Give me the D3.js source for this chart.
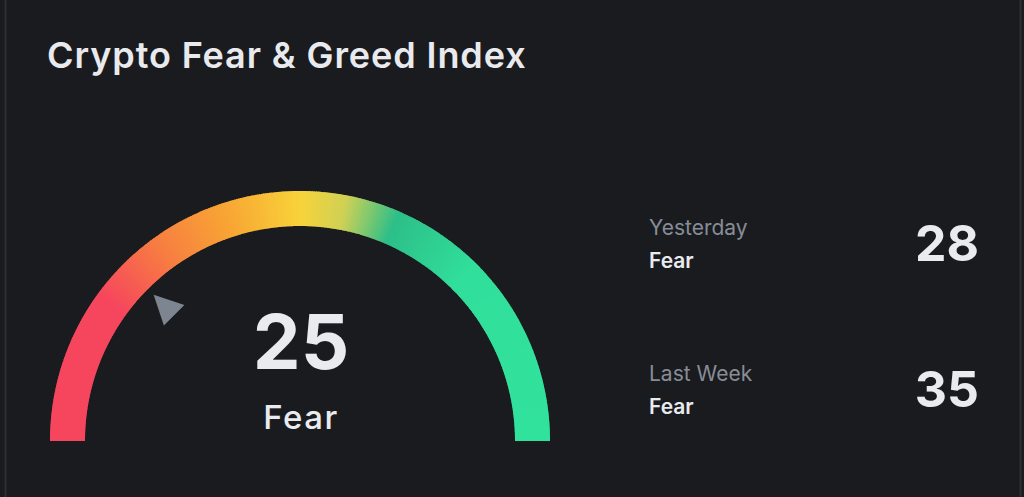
<!DOCTYPE html>
<html>
<head>
<meta charset="utf-8">
<script src="https://cdn.jsdelivr.net/npm/d3@7"></script>
<style>
  html, body { margin: 0; padding: 0; background: #1a1b1f; overflow: hidden; }
  svg { display: block; }
</style>
</head>
<body>
<svg id="fg" width="1024" height="497"></svg>
<script>
// Données
const title = "Crypto Fear & Greed Index";
const currentValue = 25;
const currentLabel = "Fear";
const historyNames = ["Yesterday", "Last Week"];
const historyLabels = ["Fear", "Fear"];
const historyValues = [28, 35];

// Dégradé de la jauge (position 0-100 -> couleur)
const gradientStops = [0, 20, 30, 40, 50, 56, 63, 75, 100];
const gradientColors = ["#f6465e", "#f6465e", "#f77d42", "#f8a534", "#f8d33a", "#cfd155", "#2dbf89", "#31df9b", "#31e29c"];

const svg = d3.select('#fg');
const fontFamily = "Inter, 'Open Sans', sans-serif";

// Cadre
svg.append('rect')
    .attr('x', 5.5).attr('y', -20).attr('width', 1015).attr('height', 540)
    .attr('rx', 16)
    .attr('fill', '#1a1b1f').attr('stroke', '#2c2f36').attr('stroke-width', 2);

// Titre
svg.append('text')
    .attr('x', 47).attr('y', 68)
    .attr('fill', '#e9eaee')
    .style('font-family', fontFamily)
    .style('font-weight', 600)
    .style('font-size', '36px')
    .style('letter-spacing', '0.9px')
    .text(title);

// Jauge
const cx = 300, cy = 441, outerR = 250, innerR = 215;
const angle = d3.scaleLinear().domain([0, 100]).range([-Math.PI / 2, Math.PI / 2]);
const color = d3.scaleLinear().domain(gradientStops).range(gradientColors).interpolate(d3.interpolateRgb);

const g = svg.append('g').attr('transform', `translate(${cx},${cy})`);
const arc = d3.arc().innerRadius(innerR).outerRadius(outerR);

const step = 0.25;
g.selectAll('.seg')
    .data(d3.range(0, 100, step))
    .enter().append('path')
    .attr('class', 'seg')
    .attr('d', d => arc({ startAngle: angle(d), endAngle: angle(Math.min(100, d + step * 1.6)) }))
    .attr('fill', d => color(d + step / 2));

// Pointeur
const tipR = 207, baseR = 178, halfW = 14.5;
g.append('path')
    .attr('transform', `rotate(${angle(currentValue) * 180 / Math.PI})`)
    .attr('d', `M0,${-tipR} L${-halfW},${-baseR} L${halfW},${-baseR} Z`)
    .attr('fill', '#7d8591');

// Valeur centrale
g.append('text')
    .attr('x', 1).attr('y', -72)
    .attr('text-anchor', 'middle')
    .attr('fill', '#eaebef')
    .style('font-family', fontFamily)
    .style('font-weight', 700)
    .style('font-size', '76px')
    .text(currentValue);

g.append('text')
    .attr('x', 1).attr('y', -12)
    .attr('text-anchor', 'middle')
    .attr('fill', '#eaebef')
    .style('font-family', fontFamily)
    .style('font-weight', 500)
    .style('font-size', '33px')
    .style('letter-spacing', '1.5px')
    .text(currentLabel);

// Historique
const rowY = d3.scalePoint().domain(historyNames).range([235, 381]);

const rows = svg.selectAll('.hist')
    .data(historyNames)
    .enter().append('g')
    .attr('class', 'hist')
    .attr('transform', d => `translate(0,${rowY(d)})`);

rows.append('text')
    .attr('x', 649).attr('y', 0)
    .attr('fill', '#878d97')
    .style('font-family', fontFamily)
    .style('font-size', '21px')
    .text(d => d);

rows.append('text')
    .attr('x', 649).attr('y', 33)
    .attr('fill', '#eaebef')
    .style('font-family', fontFamily)
    .style('font-weight', 600)
    .style('font-size', '21px')
    .text((d, i) => historyLabels[i]);

rows.append('text')
    .attr('x', 979).attr('y', 26)
    .attr('text-anchor', 'end')
    .attr('fill', '#eaebef')
    .style('font-family', fontFamily)
    .style('font-weight', 700)
    .style('font-size', '50px')
    .text((d, i) => historyValues[i]);
</script>
</body>
</html>
